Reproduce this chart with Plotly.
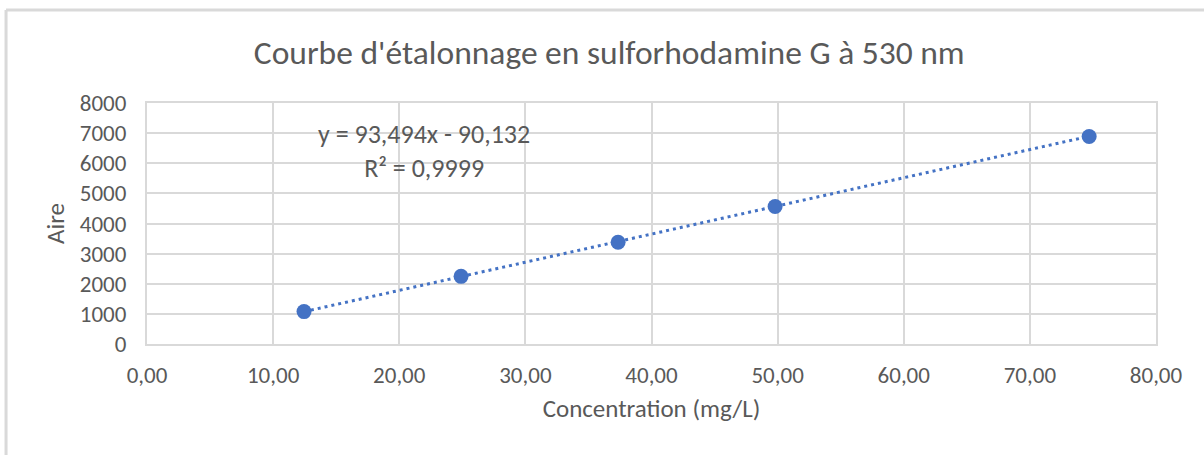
import plotly.graph_objects as go

# Calibration standards: concentration (mg/L) and measured peak area
concentration = [12.45, 24.9, 37.35, 49.8, 74.7]
aire = [1075, 2245, 3380, 4565, 6890]

# Linear trendline coefficients (as shown in the equation label)
slope = 93.494
intercept = -90.132
r_squared = 0.9999

x_ticks = [0, 10, 20, 30, 40, 50, 60, 70, 80]
y_ticks = [0, 1000, 2000, 3000, 4000, 5000, 6000, 7000, 8000]

blue = "#4472C4"
grid = "#D9D9D9"
text_gray = "#595959"
font_family = "Carlito, Calibri, Lato, sans-serif"


def fmt(v, nd):
    return f"{v:.{nd}f}".replace(".", ",")


fit_x = [min(concentration), max(concentration)]
fit_y = [slope * v + intercept for v in fit_x]

fig = go.Figure()

fig.add_trace(go.Scatter(
    x=fit_x, y=fit_y, mode="lines",
    line=dict(color=blue, width=3, dash="3px,4px"),
    hoverinfo="skip", showlegend=False,
))

fig.add_trace(go.Scatter(
    x=concentration, y=aire, mode="markers",
    marker=dict(color=blue, size=15, line=dict(width=0)),
    showlegend=False,
))

sign = "-" if intercept < 0 else "+"
eq_text = f"y = {fmt(slope, 3)}x {sign} {fmt(abs(intercept), 3)}"
r2_text = f"R² = {fmt(r_squared, 4)}"

fig.add_annotation(
    x=21.97, y=6400, xref="x", yref="y",
    text=eq_text + "<br>" + r2_text, showarrow=False,
    font=dict(family=font_family, size=26, color=text_gray),
    align="center",
)

# Chart frame (top and left edges)
fig.add_shape(type="line", xref="paper", yref="paper",
              x0=-0.1397, x1=1.05, y0=1.386, y1=1.386,
              line=dict(color=grid, width=3))
fig.add_shape(type="line", xref="paper", yref="paper",
              x0=-0.1397, x1=-0.1397, y0=1.386, y1=-0.5,
              line=dict(color=grid, width=3))

fig.update_layout(
    width=1204, height=455,
    margin=dict(l=147, r=48, t=103, b=111),
    paper_bgcolor="white", plot_bgcolor="white",
    separators=", ",
    title=dict(
        text="Courbe d'étalonnage en sulforhodamine G à 530 nm",
        x=0.506, xref="container", xanchor="center",
        y=0.885, yref="container", yanchor="middle",
        font=dict(family=font_family, size=33.5, color=text_gray),
    ),
    font=dict(family=font_family, color=text_gray),
)

fig.update_xaxes(
    range=[0, 80], tickvals=x_ticks,
    ticktext=[fmt(v, 2) for v in x_ticks],
    showgrid=True, gridcolor=grid, gridwidth=2,
    showline=True, linecolor=grid, linewidth=2, mirror=True,
    zeroline=False, ticks="", ticklabelstandoff=9,
    tickfont=dict(family=font_family, size=23, color=text_gray),
    title=dict(text="Concentration (mg/L)", standoff=12,
               font=dict(family=font_family, size=25, color=text_gray)),
)

fig.update_yaxes(
    range=[0, 8000], tickvals=y_ticks,
    ticktext=[str(v) for v in y_ticks],
    showgrid=True, gridcolor=grid, gridwidth=2,
    showline=True, linecolor=grid, linewidth=2, mirror=True,
    zeroline=False, ticks="", ticklabelstandoff=14,
    tickfont=dict(family=font_family, size=23, color=text_gray),
    title=dict(text="Aire", standoff=8,
               font=dict(family=font_family, size=25, color=text_gray)),
)

fig.write_html("out.html")
